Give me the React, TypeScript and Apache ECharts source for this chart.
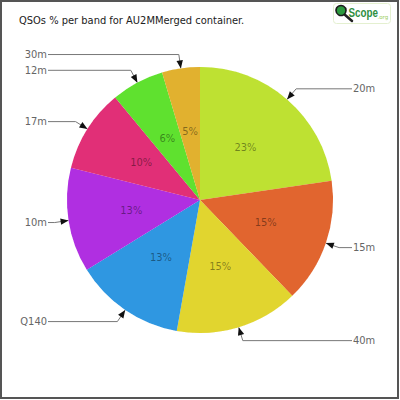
import React, { useEffect, useRef } from 'react';
import * as echarts from 'echarts';

const bands = ['20m', '15m', '40m', 'Q140', '10m', '17m', '12m', '30m'];
const shares = [22.7, 15.1, 15.0, 13.4, 12.7, 10.1, 6.4, 4.6];
const colors = ['#bee132', '#e1652f', '#e1d52f', '#2f97e1', '#b02fe1', '#e12f77', '#5fe12f', '#e1b12f'];
const titleText = 'QSOs % per band for AU2MMerged container.';

const FONT = "'DejaVu Sans Condensed', sans-serif";

export default function App() {
  const ref = useRef<HTMLDivElement>(null);
  useEffect(() => {
    const chart = echarts.init(ref.current!, null, { renderer: 'svg' });
    const guides: Record<number, number[][]> = {};
    const data = bands.map((b, i) => ({ name: b, value: shares[i], itemStyle: { color: colors[i] } }));

    const staticGraphics: any[] = [
      {
        type: 'rect',
        shape: { x: 1, y: 1, width: 397, height: 397 },
        style: { fill: 'none', stroke: '#555', lineWidth: 2 },
        silent: true,
        z: 100,
      },
      {
        type: 'group',
        children: [
          { type: 'rect', shape: { x: 333.5, y: 3.5, width: 57, height: 20, r: 3 }, style: { fill: '#fff', stroke: '#e4f0d0', lineWidth: 1 } },
          { type: 'line', shape: { x1: 344, y1: 14, x2: 352, y2: 21 }, style: { stroke: '#222', lineWidth: 2.5, lineCap: 'round' } },
          { type: 'circle', shape: { cx: 341, cy: 10.5, r: 5 }, style: { fill: '#2c9a3e', stroke: '#1b1b1b', lineWidth: 1.6 } },
          { type: 'text', x: 348.5, y: 13, scaleX: 0.82, style: { text: 'Scope', fill: '#2f8f3f', fontSize: 12, fontWeight: 'bold', fontFamily: 'Liberation Sans', verticalAlign: 'middle', align: 'left' } },
          { type: 'text', x: 377.5, y: 16.5, style: { text: '.org', fill: '#9ccc5a', fontSize: 5.5, fontFamily: 'DejaVu Sans', verticalAlign: 'middle', align: 'left' } },
        ],
      },
    ];

    const option: any = {
      animation: false,
      backgroundColor: '#fff',
      title: {
        text: titleText,
        left: 14,
        top: 10,
        textStyle: { fontSize: 11, fontWeight: 'normal', color: '#222', fontFamily: FONT },
      },
      series: [
        {
          type: 'pie',
          center: [200, 200],
          radius: 133,
          startAngle: 90,
          clockwise: true,
          data,
          itemStyle: { borderColor: '#fff', borderWidth: 1 },
          label: {
            show: true,
            position: 'outside',
            formatter: '{b}',
            color: '#666',
            fontSize: 11,
            fontFamily: FONT,
          },
          labelLine: { show: true, length: 14, length2: 10, lineStyle: { color: '#777', width: 1 } },
          labelLayout: (p: any) => {
            const pts = p.labelLinePoints;
            if (!pts) return {};
            const isLeft = pts[1][0] < 200;
            const yEnd = pts[1][1];
            const end = isLeft ? 48 : 352;
            const newPts = [pts[0], pts[1], [end, yEnd]];
            guides[p.dataIndex] = newPts;
            return {
              x: isLeft ? end - 1 : end + 1,
              y: yEnd,
              align: isLeft ? 'right' : 'left',
              verticalAlign: 'middle',
              labelLinePoints: newPts,
            };
          },
        },
        {
          type: 'pie',
          center: [200, 200],
          radius: 133,
          startAngle: 90,
          clockwise: true,
          silent: true,
          data,
          itemStyle: { color: 'rgba(0,0,0,0)', borderWidth: 0 },
          label: {
            show: true,
            position: 'inside',
            formatter: (p: any) => Math.round(p.percent) + '%',
            color: 'rgba(0,0,0,0.42)',
            fontSize: 11,
            fontFamily: FONT,
          },
          labelLine: { show: false },
        },
      ],
      graphic: staticGraphics,
    };
    chart.setOption(option);

    const arrows: any[] = [];
    Object.keys(guides).forEach((k) => {
      const pts = guides[+k];
      const [x0, y0] = pts[0];
      const [x1, y1] = pts[1];
      const len = Math.hypot(x1 - x0, y1 - y0) || 1;
      const ux = (x1 - x0) / len;
      const uy = (y1 - y0) / len;
      const L = 8;
      const W = 3.2;
      arrows.push({
        type: 'polygon',
        shape: {
          points: [
            [x0, y0],
            [x0 + ux * L - uy * W, y0 + uy * L + ux * W],
            [x0 + ux * L + uy * W, y0 + uy * L - ux * W],
          ],
        },
        style: { fill: '#111' },
        silent: true,
        z: 50,
      });
    });
    chart.setOption({ graphic: [...staticGraphics, ...arrows] });

    return () => chart.dispose();
  }, []);
  return <div ref={ref} style={{ position: 'fixed', left: 0, top: 0, width: 400, height: 400 }} />;
}
